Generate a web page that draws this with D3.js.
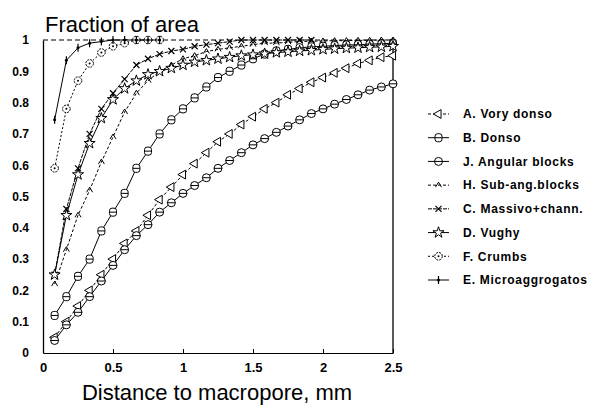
<!DOCTYPE html>
<html><head><meta charset="utf-8">
<script src="https://cdn.jsdelivr.net/npm/d3@7"></script>
<style>
body{margin:0;background:#fff;}
svg{display:block;font-family:"Liberation Sans",Arial,sans-serif;}
</style></head>
<body><svg id="c" width="590" height="412"></svg>
<script>
// ---- data ----
const xValues = [0.083,0.167,0.25,0.333,0.417,0.5,0.583,0.667,0.75,0.833,0.917,1.0,1.083,1.167,1.25,1.333,1.417,1.5,1.583,1.667,1.75,1.833,1.917,2.0,2.083,2.167,2.25,2.333,2.417,2.5];
const seriesNames = ["A. Vory donso","B. Donso","J. Angular blocks","H. Sub-ang.blocks","C. Massivo+chann.","D. Vughy","F. Crumbs","E. Microaggrogatos"];
const veryDense   = [0.05,0.10,0.15,0.20,0.25,0.30,0.35,0.39,0.44,0.49,0.53,0.57,0.605,0.64,0.675,0.70,0.73,0.755,0.78,0.80,0.825,0.845,0.865,0.88,0.895,0.91,0.925,0.935,0.945,0.95];
const dense       = [0.12,0.18,0.245,0.30,0.39,0.45,0.51,0.59,0.645,0.70,0.745,0.78,0.815,0.85,0.88,0.90,0.92,0.94,0.955,0.965,0.97,0.975,0.978,0.98,0.982,0.984,0.985,0.987,0.988,0.99];
const angular     = [0.04,0.09,0.13,0.18,0.23,0.28,0.33,0.375,0.41,0.45,0.48,0.51,0.535,0.56,0.59,0.615,0.64,0.665,0.685,0.705,0.725,0.745,0.765,0.78,0.795,0.81,0.825,0.84,0.85,0.86];
const subAngular  = [0.22,0.33,0.44,0.52,0.61,0.69,0.77,0.83,0.87,0.90,0.92,0.94,0.95,0.963,0.97,0.975,0.98,0.985,0.99,0.99,0.993,0.995,0.996,0.997,0.998,0.998,0.999,0.999,1.0,1.0];
const massive     = [0.25,0.46,0.59,0.70,0.78,0.83,0.875,0.92,0.94,0.955,0.965,0.97,0.98,0.985,0.99,0.995,1.0,1.0,1.0,1.0,1.0,1.0,1.0];
const vughy       = [0.25,0.44,0.57,0.67,0.75,0.81,0.845,0.87,0.89,0.90,0.91,0.92,0.93,0.935,0.94,0.945,0.95,0.953,0.956,0.96,0.962,0.965,0.967,0.97,0.972,0.974,0.975,0.977,0.978,0.98];
const crumbs      = [0.59,0.78,0.87,0.925,0.96,0.98,0.99,1.0,1.0,1.0];
const microagg    = [0.745,0.935,0.975,0.99,0.995,1.0,1.0,1.0,1.0,1.0];
const xTicks = [0,0.5,1,1.5,2,2.5];
const xTickLabels = ["0","0.5","1","1.5","2","2.5"];
const yTicks = [0,0.1,0.2,0.3,0.4,0.5,0.6,0.7,0.8,0.9,1];
const yTickLabels = ["0","0.1","0.2","0.3","0.4","0.5","0.6","0.7","0.8","0.9","1"];

const seriesValues = [veryDense,dense,angular,subAngular,massive,vughy,crumbs,microagg];
const lineDash = ["3,2",null,null,"3,2","4,1",null,"2,2",null];
const markerKind = ["tri","sq","circ","caret","x","star","dotcirc","plus"];

// ---- chart ----
const svg = d3.select("#c");
const x = d3.scaleLinear().domain([0,2.5]).range([43,393]);
const y = d3.scaleLinear().domain([0,1]).range([353,40]);

function marker(g, kind){
  const s = g.append("g");
  if(kind==="tri") s.append("path").attr("d", d3.symbol(d3.symbolTriangle, 34)()).attr("fill","#fff").attr("stroke","#000").attr("transform","rotate(-90)");
  else if(kind==="sq") { s.append("rect").attr("x",-3.5).attr("y",-4).attr("width",7).attr("height",8).attr("rx",2.5).attr("fill","#fff").attr("stroke","#000"); s.append("path").attr("d","M-3.5,0H3.5").attr("stroke","#000"); }
  else if(kind==="circ") { s.append("circle").attr("r",4).attr("fill","#fff").attr("stroke","#000"); s.append("path").attr("d","M-4,0H4").attr("stroke","#000"); }
  else if(kind==="caret") s.append("path").attr("d","M-3,2L0,-3L3,2").attr("fill","none").attr("stroke","#000");
  else if(kind==="x") s.append("path").attr("d","M-3,-3L3,3M-3,3L3,-3").attr("stroke","#000").attr("stroke-width",1.2);
  else if(kind==="star") s.append("path").attr("d", d3.symbol(d3.symbolStar, 38)()).attr("fill","#fff").attr("stroke","#000");
  else if(kind==="dotcirc") { s.append("circle").attr("r",3.8).attr("fill","#fff").attr("stroke","#000").attr("stroke-dasharray","2,1"); s.append("circle").attr("r",1).attr("fill","#000"); }
  else if(kind==="plus") { s.append("path").attr("d","M0,-4V4").attr("stroke","#000").attr("stroke-width",1.2); s.append("circle").attr("r",1.5).attr("fill","#000"); }
  return s;
}

// frame
svg.append("line").attr("x1",x(0)).attr("x2",x(2.5)).attr("y1",y(1)).attr("y2",y(1)).attr("stroke","#000").attr("stroke-dasharray","5,3");
svg.append("line").attr("x1",x(2.5)).attr("x2",x(2.5)).attr("y1",y(1)-2).attr("y2",y(0)).attr("stroke","#000").attr("stroke-width",1.3);

// series
const line = d3.line().x(d=>x(d[0])).y(d=>y(d[1]));
seriesValues.forEach((vals,i)=>{
  const pts = vals.map((v,k)=>[xValues[k],v]);
  svg.append("path").datum(pts).attr("d",line).attr("fill","none").attr("stroke","#000").attr("stroke-width",1)
     .attr("stroke-dasharray",lineDash[i]);
  pts.forEach(p=>{ marker(svg, markerKind[i]).attr("transform",`translate(${x(p[0])},${y(p[1])})`); });
});

// axes
const xAxis = svg.append("g").attr("transform",`translate(0,${y(0)})`)
  .call(d3.axisBottom(x).tickValues(xTicks).tickFormat((d,i)=>xTickLabels[i]).tickSizeInner(-4).tickSizeOuter(0).tickPadding(10));
xAxis.select(".domain").attr("stroke","#000").attr("stroke-width",1.2);
xAxis.selectAll("text").attr("font-size",13).attr("font-weight","bold").attr("fill","#000");
const yAxis = svg.append("g").attr("transform",`translate(${x(0)},0)`)
  .call(d3.axisLeft(y).tickValues(yTicks).tickFormat((d,i)=>yTickLabels[i]).tickSizeInner(0).tickSizeOuter(0).tickPadding(14));
yAxis.select(".domain").attr("stroke","#000").attr("stroke-width",1.3);
yAxis.selectAll("text").attr("font-size",12).attr("font-weight","bold").attr("fill","#000");

// titles
svg.append("text").attr("x",45).attr("y",32).attr("font-size",22).attr("fill","#000").text("Fraction of area");
svg.append("text").attr("x",217).attr("y",400).attr("text-anchor","middle").attr("font-size",22).attr("fill","#000").text("Distance to macropore, mm");

// legend
const legendY = d3.scaleLinear().domain([0,7]).range([114,280]);
seriesNames.forEach((name,i)=>{
  const ly = legendY(i);
  svg.append("line").attr("x1",428).attr("x2",449).attr("y1",ly).attr("y2",ly).attr("stroke","#000").attr("stroke-dasharray",lineDash[i]);
  marker(svg, markerKind[i]).attr("transform",`translate(438.5,${ly})`);
  svg.append("text").attr("x",463).attr("y",ly+4.3).attr("font-size",12).attr("font-weight","bold").attr("letter-spacing",0.7).attr("fill","#000").text(name);
});
</script></body></html>
